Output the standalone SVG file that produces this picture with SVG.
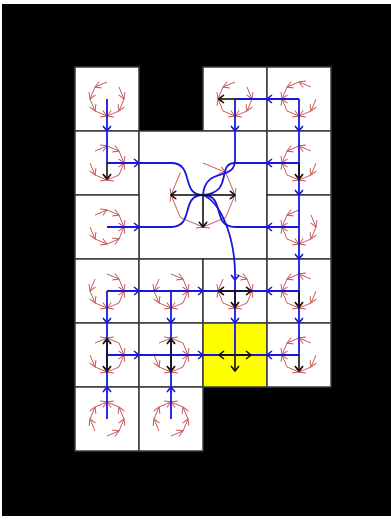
<svg xmlns="http://www.w3.org/2000/svg" xmlns:xlink="http://www.w3.org/1999/xlink" width="391" height="522" viewBox="0 0 391 522">
<style>
.cell{fill:#ffffff;stroke:#3a3a3a;stroke-width:1.5}
.goal{fill:#ffff00;stroke:#3a3a3a;stroke-width:1.5}
.ring{stroke:#c85a5a;stroke-width:1;fill:none}
.link{fill:none;stroke:#1818dc;stroke-width:1.8}
.act{fill:none;stroke:#111111;stroke-width:1.6}
</style>
<defs>
<marker id="mr" viewBox="-8 -5 9 10" refX="0" refY="0" markerWidth="9" markerHeight="10" markerUnits="userSpaceOnUse" orient="auto"><path d="M-6,-3.5 L0,0 L-6,3.5" fill="none" stroke="#c85a5a" stroke-width="1"/></marker>
<marker id="mb" viewBox="-7 -6 8 12" refX="0" refY="0" markerWidth="8" markerHeight="12" markerUnits="userSpaceOnUse" orient="auto"><path d="M-5,-4 L0,0 L-5,4" fill="none" stroke="#1818dc" stroke-width="1.6"/></marker>
<marker id="mk" viewBox="-7 -6 8 12" refX="0" refY="0" markerWidth="8" markerHeight="12" markerUnits="userSpaceOnUse" orient="auto"><path d="M-5,-4 L0,0 L-5,4" fill="none" stroke="#111111" stroke-width="1.6"/></marker>
<!-- sink B, gap T-TR -->
<g id="p1" class="ring" marker-end="url(#mr)">
<line x1="0" y1="-17" x2="-12" y2="-12"/>
<line x1="-12" y1="-12" x2="-17" y2="0"/>
<line x1="-17" y1="0" x2="-12" y2="12"/>
<line x1="-12" y1="12" x2="0" y2="17"/>
<line x1="12" y1="-12" x2="17" y2="0"/>
<line x1="17" y1="0" x2="12" y2="12"/>
<line x1="12" y1="12" x2="0" y2="17"/>
</g>
<!-- sinks L,B, gap T-TR -->
<g id="p2" class="ring" marker-end="url(#mr)">
<line x1="0" y1="-17" x2="-12" y2="-12"/>
<line x1="-12" y1="-12" x2="-17" y2="0"/>
<line x1="-12" y1="12" x2="-17" y2="0"/>
<line x1="-12" y1="12" x2="0" y2="17"/>
<line x1="12" y1="12" x2="0" y2="17"/>
<line x1="17" y1="0" x2="12" y2="12"/>
<line x1="12" y1="-12" x2="17" y2="0"/>
</g>
<!-- sinks L,B, gap TR-R -->
<g id="p3" class="ring" marker-end="url(#mr)">
<line x1="12" y1="-12" x2="0" y2="-17"/>
<line x1="0" y1="-17" x2="-12" y2="-12"/>
<line x1="-12" y1="-12" x2="-17" y2="0"/>
<line x1="-12" y1="12" x2="-17" y2="0"/>
<line x1="-12" y1="12" x2="0" y2="17"/>
<line x1="12" y1="12" x2="0" y2="17"/>
<line x1="17" y1="0" x2="12" y2="12"/>
</g>
<!-- sinks T,R,B, gap L-TL -->
<g id="p7" class="ring" marker-end="url(#mr)">
<line x1="-12" y1="-12" x2="0" y2="-17"/>
<line x1="12" y1="-12" x2="0" y2="-17"/>
<line x1="12" y1="-12" x2="17" y2="0"/>
<line x1="12" y1="12" x2="17" y2="0"/>
<line x1="12" y1="12" x2="0" y2="17"/>
<line x1="-12" y1="12" x2="0" y2="17"/>
<line x1="-17" y1="0" x2="-12" y2="12"/>
</g>
<!-- sinks L,R,B, gap TL-T -->
<g id="p6" class="ring" marker-end="url(#mr)">
<line x1="0" y1="-17" x2="12" y2="-12"/>
<line x1="12" y1="-12" x2="17" y2="0"/>
<line x1="12" y1="12" x2="17" y2="0"/>
<line x1="12" y1="12" x2="0" y2="17"/>
<line x1="-12" y1="12" x2="0" y2="17"/>
<line x1="-12" y1="12" x2="-17" y2="0"/>
<line x1="-12" y1="-12" x2="-17" y2="0"/>
</g>
</defs>

<rect x="0" y="0" width="391" height="522" fill="#ffffff"/>
<rect x="2" y="4" width="389" height="512" fill="#000000"/>

<g id="nodes">
<g id="cell-r0c0"><rect class="cell" x="75" y="67" width="64" height="64"/><use href="#p1" transform="translate(107,99)"/></g>
<g id="cell-r0c2"><rect class="cell" x="203" y="67" width="64" height="64"/><use href="#p2" transform="translate(235,99)"/></g>
<g id="cell-r0c3"><rect class="cell" x="267" y="67" width="64" height="64"/><use href="#p3" transform="translate(299,99)"/></g>
<g id="cell-r1c0"><rect class="cell" x="75" y="131" width="64" height="64"/><use href="#p3" transform="translate(107,163) scale(-1,1)"/></g>
<g id="cell-big"><rect class="cell" x="139" y="131" width="128" height="128"/>
<g class="ring" marker-end="url(#mr)" transform="translate(203,195)">
<line x1="0" y1="-32" x2="22.6" y2="-22.6"/>
<line x1="22.6" y1="-22.6" x2="32" y2="0"/>
<line x1="22.6" y1="22.6" x2="32" y2="0"/>
<line x1="22.6" y1="22.6" x2="0" y2="32"/>
<line x1="-22.6" y1="22.6" x2="0" y2="32"/>
<line x1="-22.6" y1="22.6" x2="-32" y2="0"/>
<line x1="-22.6" y1="-22.6" x2="-32" y2="0"/>
</g></g>
<g id="cell-r1c3"><rect class="cell" x="267" y="131" width="64" height="64"/><use href="#p3" transform="translate(299,163)"/></g>
<g id="cell-r2c0"><rect class="cell" x="75" y="195" width="64" height="64"/><use href="#p1" transform="translate(107,227) rotate(-90)"/></g>
<g id="cell-r2c3"><rect class="cell" x="267" y="195" width="64" height="64"/><use href="#p2" transform="translate(299,227)"/></g>
<g id="cell-r3c0"><rect class="cell" x="75" y="259" width="64" height="64"/><use href="#p2" transform="translate(107,291) scale(-1,1)"/></g>
<g id="cell-r3c1"><rect class="cell" x="139" y="259" width="64" height="64"/><use href="#p2" transform="translate(171,291) scale(-1,1)"/></g>
<g id="cell-r3c2"><rect class="cell" x="203" y="259" width="64" height="64"/><use href="#p6" transform="translate(235,291)"/></g>
<g id="cell-r3c3"><rect class="cell" x="267" y="259" width="64" height="64"/><use href="#p3" transform="translate(299,291)"/></g>
<g id="cell-r4c0"><rect class="cell" x="75" y="323" width="64" height="64"/><use href="#p7" transform="translate(107,355)"/></g>
<g id="cell-r4c1"><rect class="cell" x="139" y="323" width="64" height="64"/><use href="#p7" transform="translate(171,355)"/></g>
<g id="cell-r4c2"><rect class="goal" x="203" y="323" width="64" height="64"/></g>
<g id="cell-r4c3"><rect class="cell" x="267" y="323" width="64" height="64"/><use href="#p3" transform="translate(299,355)"/></g>
<g id="cell-r5c0"><rect class="cell" x="75" y="387" width="64" height="64"/><use href="#p1" transform="translate(107,419) rotate(180)"/></g>
<g id="cell-r5c1"><rect class="cell" x="139" y="387" width="64" height="64"/><use href="#p1" transform="translate(171,419) rotate(180)"/></g>
</g>

<g id="connectors" class="link">
<path d="M107,99 L107,131 L107,163" marker-mid="url(#mb)"/>
<path d="M107,163 L139,163 L171,163" marker-mid="url(#mb)"/>
<path d="M171,163 C195,163 180,195 203,195"/>
<path d="M107,227 L139,227 L171,227" marker-mid="url(#mb)"/>
<path d="M171,227 C195,227 180,195 203,195"/>
<path d="M299,99 L267,99 L235,99" marker-mid="url(#mb)"/>
<path d="M235,99 L235,131 L235,160" marker-mid="url(#mb)"/>
<path d="M235,160 C235,182 205,166 203,195"/>
<path d="M299,163 L267,163 L235,163" marker-mid="url(#mb)"/>
<path d="M235,163 C216,163 234,193 203,195"/>
<path d="M299,227 L267,227 L235,227" marker-mid="url(#mb)"/>
<path d="M235,227 C211,227 226,195 203,195"/>
<path d="M299,99 L299,131 L299,163" marker-mid="url(#mb)"/>
<path d="M299,163 L299,195 L299,227" marker-mid="url(#mb)"/>
<path d="M299,227 L299,259 L299,291" marker-mid="url(#mb)"/>
<path d="M299,291 L299,323 L299,355" marker-mid="url(#mb)"/>
<path d="M203,195 C222,203 236,240 235,280" marker-end="url(#mb)"/>
<path d="M235,280 L235,323 L235,355" marker-mid="url(#mb)"/>
<path d="M107,291 L139,291 L171,291" marker-mid="url(#mb)"/>
<path d="M171,291 L203,291 L235,291" marker-mid="url(#mb)"/>
<path d="M299,291 L267,291 L235,291" marker-mid="url(#mb)"/>
<path d="M107,291 L107,323 L107,355" marker-mid="url(#mb)"/>
<path d="M171,291 L171,323 L171,355" marker-mid="url(#mb)"/>
<path d="M107,355 L139,355 L171,355" marker-mid="url(#mb)"/>
<path d="M171,355 L203,355 L235,355" marker-mid="url(#mb)"/>
<path d="M299,355 L267,355 L235,355" marker-mid="url(#mb)"/>
<path d="M107,419 L107,387 L107,355" marker-mid="url(#mb)"/>
<path d="M171,419 L171,387 L171,355" marker-mid="url(#mb)"/>
</g>

<g id="actions" class="act" marker-end="url(#mk)">
<line x1="235" y1="99" x2="219" y2="99"/>
<line x1="107" y1="163" x2="107" y2="179"/>
<line x1="203" y1="195" x2="171" y2="195"/>
<line x1="203" y1="195" x2="235" y2="195"/>
<line x1="203" y1="195" x2="203" y2="227"/>
<line x1="299" y1="163" x2="299" y2="179"/>
<line x1="235" y1="291" x2="219" y2="291"/>
<line x1="235" y1="291" x2="251" y2="291"/>
<line x1="235" y1="291" x2="235" y2="307"/>
<line x1="299" y1="291" x2="299" y2="307"/>
<line x1="107" y1="355" x2="107" y2="339"/>
<line x1="107" y1="355" x2="107" y2="371"/>
<line x1="171" y1="355" x2="171" y2="339"/>
<line x1="171" y1="355" x2="171" y2="371"/>
<line x1="235" y1="355" x2="219" y2="355"/>
<line x1="235" y1="355" x2="251" y2="355"/>
<line x1="235" y1="355" x2="235" y2="371"/>
<line x1="299" y1="355" x2="299" y2="371"/>
</g>
</svg>
